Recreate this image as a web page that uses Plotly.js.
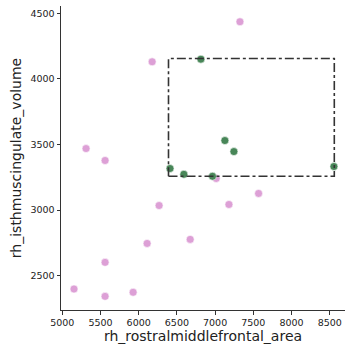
<!DOCTYPE html>
<html>
<head>
<meta charset="utf-8">
<script src="https://cdn.plot.ly/plotly-3.0.1.min.js"></script>
<style>html,body{margin:0;padding:0;background:#fff;}#chart{width:346px;height:347px;}</style>
</head>
<body>
<div id="chart"></div>
<script>
const otherX = [7325, 6176, 5311, 5560, 6267, 6110, 5560, 5153, 5560, 5927, 7014, 7569, 7181, 6674];
const otherY = [4435, 4130, 3469, 3378, 3035, 2746, 2602, 2399, 2343, 2374, 3241, 3127, 3043, 2777];
const clusterX = [6814, 7128, 7246, 6410, 6591, 6966, 8555];
const clusterY = [4150, 3530, 3446, 3317, 3273, 3258, 3332];
const xTicks = [5000, 5500, 6000, 6500, 7000, 7500, 8000, 8500];
const yTicks = [2500, 3000, 3500, 4000, 4500];

const boxX = [Math.min(...clusterX), Math.max(...clusterX)];
const boxY = [Math.min(...clusterY), Math.max(...clusterY)];

const traces = [
  {x: otherX, y: otherY, mode: 'markers', type: 'scatter',
   marker: {color: 'rgb(221,160,214)', size: 8, line: {color: '#fff', width: 0.6}}},
  {x: clusterX, y: clusterY, mode: 'markers', type: 'scatter',
   marker: {color: 'rgb(72,134,88)', size: 8, line: {color: '#fff', width: 0.6}}}
];

const layout = {
  width: 346, height: 347,
  margin: {l: 61, r: 1, t: 6, b: 37},
  paper_bgcolor: '#fff', plot_bgcolor: '#fff',
  showlegend: false,
  font: {family: 'DejaVu Sans', color: '#222'},
  xaxis: {range: [4983, 8700], tickvals: xTicks, ticktext: xTicks.map(String),
    showgrid: false, zeroline: false, showline: true, linecolor: '#333', linewidth: 1,
    ticks: 'outside', ticklen: 3.5, tickcolor: '#333', tickfont: {size: 9.5},
    title: {text: 'rh_rostralmiddlefrontal_area', font: {size: 14}, standoff: 4}},
  yaxis: {range: [2239, 4555], tickvals: yTicks, ticktext: yTicks.map(String),
    showgrid: false, zeroline: false, showline: true, linecolor: '#333', linewidth: 1,
    ticks: 'outside', ticklen: 3.5, tickcolor: '#333', tickfont: {size: 9.5},
    title: {text: 'rh_isthmuscingulate_volume', font: {size: 14}, standoff: 5}},
  shapes: [{type: 'rect', xref: 'x', yref: 'y', x0: boxX[0] - 20, x1: boxX[1] + 5, y0: boxY[0], y1: boxY[1] + 5,
    line: {color: '#333', width: 1.6, dash: 'dashdot'}, layer: 'above'}]
};

Plotly.newPlot('chart', traces, layout, {staticPlot: true, displayModeBar: false});
</script>
</body>
</html>
